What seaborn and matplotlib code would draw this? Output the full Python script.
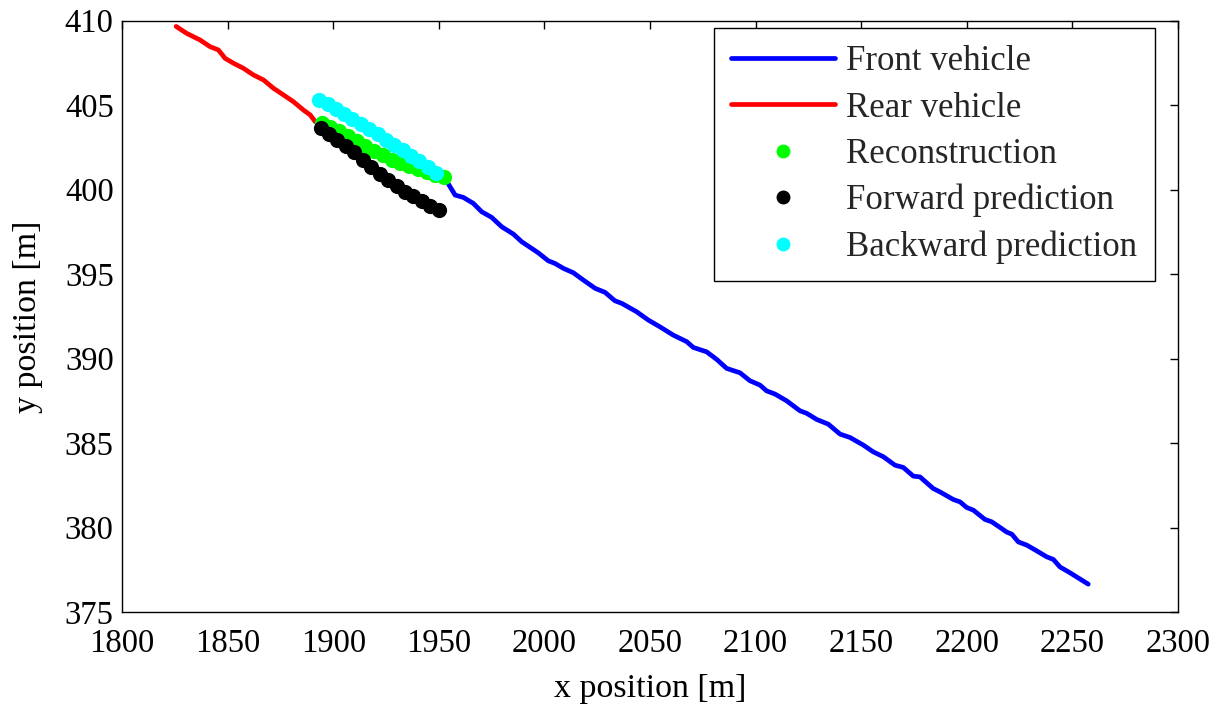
import numpy as np
import pandas as pd
import matplotlib
matplotlib.use("Agg")
import matplotlib.pyplot as plt
import seaborn as sns
from matplotlib.lines import Line2D

# ---------------- data ----------------
front_x = [1952.9, 1957.7, 1961.6, 1966.3, 1970.3, 1975.0, 1979.8, 1985.3, 1989.2, 1997.1,
           2001.8, 2005.0, 2009.0, 2013.7, 2018.4, 2024.0, 2028.7, 2033.4, 2036.6, 2043.7,
           2049.2, 2054.7, 2061.0, 2067.4, 2070.5, 2076.8, 2081.6, 2086.3, 2092.6, 2097.3,
           2102.1, 2105.2, 2109.2, 2114.7, 2121.0, 2124.2, 2128.9, 2134.4, 2140.0, 2144.7,
           2151.0, 2155.7, 2160.5, 2166.0, 2169.9, 2174.7, 2177.8, 2184.1, 2187.3, 2193.6,
           2196.8, 2199.9, 2203.1, 2208.6, 2211.8, 2215.7, 2218.9, 2221.3, 2224.4, 2228.4,
           2233.1, 2237.8, 2241.0, 2244.1, 2248.9, 2257.5]
front_y = [400.67, 399.68, 399.54, 399.19, 398.69, 398.36, 397.80, 397.37, 396.92, 396.26,
           395.79, 395.63, 395.34, 395.08, 394.65, 394.16, 393.92, 393.42, 393.27, 392.77,
           392.28, 391.88, 391.39, 391.00, 390.66, 390.40, 389.95, 389.42, 389.16, 388.69,
           388.43, 388.09, 387.90, 387.50, 386.91, 386.76, 386.40, 386.12, 385.53, 385.33,
           384.88, 384.48, 384.19, 383.69, 383.56, 383.04, 383.00, 382.31, 382.11, 381.66,
           381.52, 381.19, 381.03, 380.48, 380.34, 380.01, 379.73, 379.61, 379.15, 378.96,
           378.62, 378.27, 378.11, 377.67, 377.32, 376.65]

rear_x = [1825.6, 1830.6, 1836.9, 1841.7, 1845.6, 1848.8, 1852.8, 1857.5, 1862.2, 1867.0,
          1871.7, 1876.5, 1881.2, 1885.9, 1889.1, 1891.5]
rear_y = [409.66, 409.25, 408.86, 408.46, 408.27, 407.77, 407.48, 407.18, 406.79, 406.49,
          406.00, 405.60, 405.20, 404.71, 404.42, 404.02]

recon_x = [1894.5, 1898.6, 1902.8, 1906.9, 1911.1, 1915.2, 1919.4, 1923.5, 1927.6, 1931.8,
           1935.9, 1940.1, 1944.2, 1948.4, 1952.5]
recon_y = [403.93, 403.70, 403.45, 403.18, 402.88, 402.58, 402.30, 402.03, 401.78, 401.56,
           401.38, 401.20, 401.03, 400.88, 400.73]

fwd_x = [1894, 1898, 1902, 1906, 1910, 1914, 1918, 1922, 1926, 1930, 1934, 1938, 1942, 1946, 1950]
fwd_y = [403.63, 403.30, 402.95, 402.60, 402.20, 401.78, 401.34, 400.93, 400.55, 400.20,
         399.88, 399.60, 399.30, 399.02, 398.79]

bwd_x = [1893.3, 1897.3, 1901.2, 1905.2, 1909.1, 1913.1, 1917.0, 1921.0, 1925.0, 1928.9,
         1932.9, 1936.8, 1940.8, 1944.7, 1948.7]
bwd_y = [405.31, 405.04, 404.77, 404.48, 404.18, 403.88, 403.58, 403.28, 402.96, 402.64,
         402.33, 402.02, 401.68, 401.32, 400.96]

labels = ["Front vehicle", "Rear vehicle", "Reconstruction", "Forward prediction", "Backward prediction"]
x_ticks = [1800, 1850, 1900, 1950, 2000, 2050, 2100, 2150, 2200, 2250, 2300]
y_ticks = [375, 380, 385, 390, 395, 400, 405, 410]

# ---------------- style ----------------
sns.set_theme(style="white")
plt.rcParams['font.family'] = ['Liberation Serif', 'DejaVu Serif']

fig = plt.figure(figsize=(12.23, 7.06), dpi=100)
ax = fig.add_axes([0.0998, 0.1331, 0.8634, 0.8376])

c_blue, c_red, c_green, c_black, c_cyan = "#0000FF", "#FF0000", "#00FF00", "#000000", "#00FFFF"

sns.lineplot(x=front_x, y=front_y, sort=False, estimator=None, color=c_blue, linewidth=3.4, ax=ax)
sns.lineplot(x=rear_x, y=rear_y, sort=False, estimator=None, color=c_red, linewidth=3.4, ax=ax)
ms = 120
sns.scatterplot(x=recon_x, y=recon_y, color=c_green, s=ms, linewidth=0, ax=ax, zorder=3)
sns.scatterplot(x=fwd_x, y=fwd_y, color=c_black, s=ms, linewidth=0, ax=ax, zorder=3)
sns.scatterplot(x=bwd_x, y=bwd_y, color=c_cyan, s=ms, linewidth=0, ax=ax, zorder=3)

ax.set_xlim(1800, 2300)
ax.set_ylim(375, 410)
ax.set_xticks(x_ticks)
ax.set_yticks(y_ticks)
ax.tick_params(axis='x', pad=12)
ax.tick_params(axis='y', pad=6)
ax.tick_params(direction='in', length=6, width=1, top=True, right=True,
               labelsize=23.5, colors='black')
for sp in ax.spines.values():
    sp.set_visible(True)
    sp.set_color('black')
    sp.set_linewidth(1.0)

ax.set_xlabel("x position [m]", fontsize=24.5, color='black', labelpad=10)
ax.set_ylabel("y position [m]", fontsize=24.5, color='black', labelpad=16)

handles = [
    Line2D([], [], color=c_blue, linewidth=3.4),
    Line2D([], [], color=c_red, linewidth=3.4),
    Line2D([], [], color=c_green, marker='o', linestyle='None', markersize=9),
    Line2D([], [], color=c_black, marker='o', linestyle='None', markersize=9),
    Line2D([], [], color=c_cyan, marker='o', linestyle='None', markersize=9),
]
leg = ax.legend(handles, labels, loc='upper right', bbox_to_anchor=(0.978, 0.9877),
                borderaxespad=0, fontsize=25, frameon=True, fancybox=False,
                edgecolor='black', framealpha=1, handlelength=3.0, handletextpad=0.32,
                labelspacing=0.38, borderpad=0.5)
leg.get_frame().set_linewidth(1.0)

fig.savefig("out.png", dpi=100, facecolor='white')
